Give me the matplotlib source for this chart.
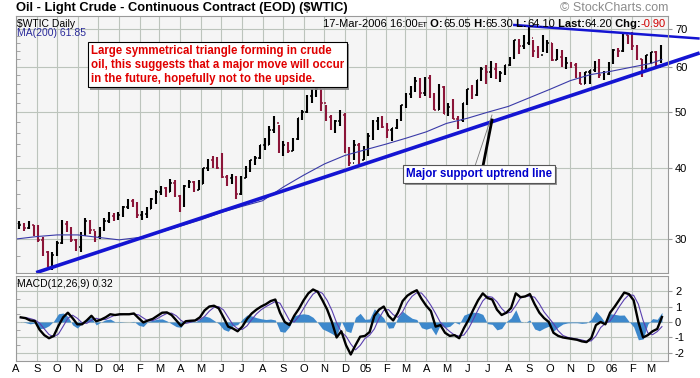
import matplotlib
matplotlib.use('Agg')
import matplotlib.pyplot as plt
import matplotlib.dates as mdates
import matplotlib.patheffects as pe
from matplotlib.ticker import FixedLocator, FormatStrFormatter, NullFormatter, FuncFormatter
from matplotlib.lines import Line2D
import pandas as pd

plt.rcParams['font.family'] = ['Liberation Sans', 'DejaVu Sans']

# weekly bars (week ending Friday)
weeks = pd.date_range('2003-08-08', periods=137, freq='W-FRI')
first_open = 31.4
week_high = [32.3, 32.0, 32.3, 31.8, 31.7, 30.2, 28.6, 28.5,
             29.8, 32.4, 32.2, 31.5, 30.0, 30.9, 32.6, 32.4, 31.0,
             31.5, 32.6, 33.4, 33.3,
             33.4, 34.3, 35.3, 35.3, 34.8, 33.6, 34.2, 35.4, 36.6,
             37.1, 37.0, 38.2, 38.0, 35.8, 37.3, 38.0, 37.9, 38.0,
             40.0, 41.4, 41.9, 41.7, 42.4, 38.8, 39.0, 38.6,
             38.6, 40.2, 41.3, 42.0, 43.9, 45.0, 47.3, 49.2, 47.5,
             44.5, 44.3, 45.0, 48.9, 50.5, 53.5, 54.9, 55.2, 55.0,
             51.5, 49.5, 48.5, 50.4, 49.9, 43.4, 44.8, 44.2, 43.6,
             46.0, 48.4, 49.0, 49.3, 47.8, 47.0, 48.7, 51.5,
             54.0, 55.6, 57.6, 57.3, 57.7, 58.0, 54.0, 56.0, 55.5,
             52.0, 52.7, 49.3, 51.9, 55.0, 55.8, 57.0, 59.9,
             60.5, 61.5, 61.0, 59.0, 60.6, 62.5, 67.0, 67.1, 68.2,
             70.8, 67.0, 65.2, 68.2, 67.0, 66.0, 64.5, 64.3, 62.4,
             61.3, 61.0, 58.8, 58.8, 59.4, 61.5, 62.0, 59.0, 61.3,
             64.6, 64.8, 68.6, 68.4, 69.0, 65.5, 62.0, 63.0,
             63.8, 63.9, 65.5]
week_low = [31.2, 31.0, 31.2, 30.4, 29.6, 28.0, 26.8, 26.5,
            28.0, 29.4, 30.9, 29.6, 28.6, 28.5, 30.4, 30.6, 29.7,
            30.0, 31.0, 32.0, 32.2,
            32.4, 32.8, 33.8, 34.2, 32.6, 32.4, 32.6, 33.8, 34.6,
            35.8, 35.6, 36.3, 35.5, 33.4, 34.2, 36.8, 36.3, 36.5,
            37.5, 39.5, 40.0, 39.8, 38.3, 37.2, 37.5, 35.3,
            35.8, 38.3, 39.3, 40.5, 41.5, 43.0, 43.9, 46.0, 42.4,
            42.0, 42.5, 42.7, 44.8, 48.5, 49.8, 52.0, 53.2, 50.3,
            48.3, 46.6, 46.0, 47.4, 42.5, 40.3, 41.2, 40.6, 41.2,
            42.0, 44.8, 46.6, 47.0, 45.0, 44.5, 46.8, 48.3,
            50.8, 53.0, 54.2, 53.0, 53.4, 53.0, 50.4, 50.4, 49.6,
            49.2, 48.6, 46.8, 48.0, 51.4, 52.8, 53.4, 56.8,
            56.0, 57.3, 57.1, 56.5, 58.2, 60.2, 62.0, 63.3, 64.5,
            65.5, 62.6, 62.3, 63.8, 63.5, 61.4, 61.6, 60.0, 59.6,
            59.8, 57.3, 56.0, 56.0, 56.0, 58.8, 57.5, 56.9, 58.0,
            60.8, 62.5, 63.8, 65.8, 64.3, 61.8, 57.7, 59.6,
            60.7, 59.8, 60.9]
week_close = [31.8, 31.4, 31.7, 31.5, 29.9, 28.5, 27.2, 28.1,
              29.5, 31.9, 31.3, 29.9, 29.1, 30.6, 32.2, 31.1, 30.2,
              31.3, 32.2, 32.9, 32.7,
              33.0, 34.1, 35.0, 34.6, 33.0, 33.2, 33.9, 35.2, 36.2,
              36.9, 36.2, 37.6, 35.7, 34.4, 37.1, 37.7, 36.6, 37.4,
              39.9, 41.3, 40.8, 39.9, 38.5, 38.3, 38.5, 36.0,
              38.4, 39.9, 41.2, 41.6, 43.8, 43.9, 46.6, 47.8, 43.2,
              43.9, 42.8, 44.9, 48.9, 50.1, 53.3, 54.5, 54.9, 51.8,
              49.1, 47.2, 48.2, 49.5, 42.6, 40.7, 43.8, 41.3, 43.4,
              45.4, 48.3, 48.5, 47.2, 46.5, 46.9, 48.4, 51.4,
              53.8, 54.4, 56.7, 54.0, 57.3, 53.3, 50.5, 55.4, 49.7,
              51.0, 48.7, 48.4, 51.9, 55.0, 53.5, 57.0, 59.6,
              58.8, 59.6, 58.1, 58.6, 60.6, 62.3, 66.9, 65.4, 66.1,
              67.5, 64.1, 63.0, 64.2, 66.2, 61.8, 62.6, 60.6, 61.0,
              60.6, 57.8, 56.1, 58.7, 59.3, 59.4, 58.1, 58.4, 61.0,
              64.2, 63.9, 68.4, 67.8, 65.4, 61.9, 59.9, 62.9,
              63.7, 60.0, 64.2]

# 200-day moving average as drawn
ma_dates = ['2003-08-01', '2003-09-01', '2003-10-01', '2003-11-01', '2003-12-01',
            '2004-01-01', '2004-02-01', '2004-03-01', '2004-04-01', '2004-05-01',
            '2004-06-01', '2004-07-01', '2004-08-01', '2004-09-01', '2004-10-01',
            '2004-11-01', '2004-12-01', '2005-01-01', '2005-02-01', '2005-03-01',
            '2005-04-01', '2005-05-01', '2005-06-01', '2005-07-01', '2005-08-01',
            '2005-09-01', '2005-10-01', '2005-11-01', '2005-12-01', '2006-01-01',
            '2006-02-01', '2006-03-01', '2006-03-17']
ma200 = [30.0, 30.3, 30.5, 30.5, 30.2, 29.9, 30.2, 30.8, 31.6, 32.4,
         33.4, 34.2, 35.0, 37.0, 38.8, 40.6, 42.0, 43.0, 44.0, 45.0,
         46.2, 47.8, 48.8, 50.0, 51.2, 53.0, 54.8, 56.8, 58.2, 59.0,
         60.0, 60.9, 61.85]

# MACD(12,26,9) weekly readings
macd = [0.3, 0.25, 0.1, 0.06, -0.5, -0.85, -1.05, -0.9, -0.25, 0.3,
        0.6, 0.25, -0.15, -0.15, 0.1, 0.4, 0.05, 0.15, 0.3, 0.5,
        0.45, 0.5, 0.5, 0.5, 0.55, 0.25, -0.03, 0.1, 0.2, 0.4,
        0.6, 0.62, 0.45, 0.1, -0.25, 0.05, 0.08, 0.1, 0.3, 0.75,
        1.0, 1.05, 0.88, 0.3, -0.3, -0.42, -0.6, -0.3, 0.2, 0.55,
        0.8, 1.0, 1.15, 1.35, 1.45, 0.6, 0.0, -0.2, 0.4, 0.85,
        1.4, 1.85, 2.1, 1.95, 1.4, 0.8, 0.0, -1.0, -0.6, -1.5,
        -2.1, -1.5, -0.95, -0.9, -0.65, 0.4, 0.8, 1.0, 0.4, 0.1,
        0.6, 1.35, 1.7, 1.9, 2.05, 1.5, 1.05, 0.7, -0.3, -0.2,
        -0.7, -0.9, -0.85, -1.05, -0.4, 0.15, 0.8, 1.4, 1.85, 1.55,
        1.45, 0.8, 0.45, 0.6, 0.9, 1.85, 1.6, 1.65, 1.8, 1.15,
        0.6, 0.25, 0.0, -0.7, -0.9, -1.0, -1.05, -1.1, -1.15, -1.25,
        -1.3, -1.05, -0.2, 0.0, -0.15, 0.6, 1.0, 1.45, 1.9, 1.8,
        1.4, 0.0, -1.0, -0.85, -0.6, -0.45, 0.32]
signal = [0.28, 0.29, 0.22, 0.13, -0.07, -0.45, -0.81, -0.96, -0.78, -0.28,
          0.24, 0.44, 0.24, -0.05, -0.09, 0.11, 0.24, 0.16, 0.16, 0.31,
          0.44, 0.47, 0.49, 0.5, 0.51, 0.46, 0.26, 0.07, 0.09, 0.22,
          0.4, 0.55, 0.57, 0.4, 0.1, -0.09, -0.02, 0.08, 0.14, 0.36,
          0.7, 0.95, 0.99, 0.78, 0.3, -0.18, -0.43, -0.48, -0.25, 0.16,
          0.52, 0.79, 0.99, 1.16, 1.32, 1.21, 0.66, 0.1, 0.0, 0.36,
          0.87, 1.37, 1.8, 2.0, 1.85, 1.39, 0.75, -0.05, -0.65, -0.92,
          -1.42, -1.8, -1.51, -1.07, -0.85, -0.45, 0.24, 0.75, 0.8, 0.47,
          0.3, 0.66, 1.25, 1.66, 1.89, 1.87, 1.52, 1.07, 0.54, -0.02,
          -0.35, -0.62, -0.84, -0.91, -0.84, -0.42, 0.17, 0.79, 1.36, 1.66,
          1.6, 1.31, 0.87, 0.57, 0.64, 1.06, 1.55, 1.67, 1.67, 1.6,
          1.17, 0.65, 0.27, -0.11, -0.57, -0.87, -0.99, -1.05, -1.1, -1.16,
          -1.24, -1.22, -0.9, -0.36, -0.09, 0.07, 0.51, 1.01, 1.45, 1.76,
          1.72, 1.15, 0.1, -0.71, -0.82, -0.62, -0.3]

# trend lines (date, price)
support_dates = ['2003-08-31', '2006-05-12']
support_prices = [26.2, 63.5]
resist_dates = ['2005-08-08', '2006-05-12']
resist_prices = [71.1, 67.3]

W, H = 700, 378
BG = '#f5f5f5'
GRID = '#bcc4bc'
SPINE = '#9a9a9a'
BLUE = '#1414d2'
RED_BAR = '#8b1538'


def px(l, t, r, b):
    return [l / W, 1 - b / H, (r - l) / W, (b - t) / H]


fig = plt.figure(figsize=(7, 3.78), dpi=100)
ax = fig.add_axes(px(16, 16, 668, 273))
axm = fig.add_axes(px(16, 276, 668, 361), sharex=ax)

for a in (ax, axm):
    a.set_facecolor(BG)
    for s in a.spines.values():
        s.set_color(SPINE)
        s.set_linewidth(0.8)
    a.xaxis.set_major_locator(mdates.MonthLocator())
    a.grid(True, which='major', color=GRID, lw=0.8)
    a.set_axisbelow(True)
    a.yaxis.tick_right()
    a.tick_params(axis='y', which='major', right=True, left=False, length=3,
                  color=SPINE, labelsize=8, pad=2)
    a.tick_params(axis='y', which='minor', left=True, right=False,
                  direction='in', length=3, color=SPINE)

# ---- price panel
x = mdates.date2num(weeks) - 2
opens = [first_open] + week_close[:-1]
cols = ['black' if c >= o else RED_BAR for o, c in zip(opens, week_close)]
ax.vlines(x, week_low, week_high, colors=cols, lw=1.5)
ax.hlines(opens, x - 2.2, x, colors=cols, lw=1.1)
ax.hlines(week_close, x, x + 2.2, colors=cols, lw=1.1)

ax.plot(mdates.date2num(pd.to_datetime(ma_dates)), ma200, color='#3a3aa8', lw=0.8)

ax.plot(mdates.date2num(pd.to_datetime(support_dates)), support_prices,
        color=BLUE, lw=2.6, clip_on=False, solid_capstyle='butt')
ax.plot(mdates.date2num(pd.to_datetime(resist_dates)), resist_prices,
        color=BLUE, lw=1.8, clip_on=False, solid_capstyle='butt')

ax.set_yscale('log')
ax.set_ylim(26.16, 73.7)
ax.yaxis.set_major_locator(FixedLocator([30, 40, 50, 60, 70]))
ax.yaxis.set_major_formatter(FormatStrFormatter('%d'))
ax.yaxis.set_minor_locator(FixedLocator(list(range(26, 74, 2))))
ax.yaxis.set_minor_formatter(NullFormatter())
ax.set_xlim(mdates.date2num(pd.Timestamp('2003-08-01')),
            mdates.date2num(pd.Timestamp('2006-03-26')))
ax.tick_params(axis='x', length=0, labelbottom=False)

# ---- MACD panel
xm = mdates.date2num(weeks)
hist = [m - s for m, s in zip(macd, signal)]
axm.fill_between(xm, hist, 0, color='#3d88cc', lw=0)
axm.plot(xm, signal, color='#5a3fb0', lw=0.8)
axm.plot(xm, macd, color='black', lw=1.7)
axm.set_ylim(-2.52, 2.97)
axm.yaxis.set_major_locator(FixedLocator([-2, -1, 0, 1, 2]))
axm.yaxis.set_major_formatter(FormatStrFormatter('%d'))
axm.yaxis.set_minor_locator(FixedLocator([-2.5, -1.5, -0.5, 0.5, 1.5, 2.5]))
axm.yaxis.set_minor_formatter(NullFormatter())


def month_label(v, pos):
    d = mdates.num2date(v)
    return d.strftime('%y') if d.month == 1 else d.strftime('%b')[0]


axm.xaxis.set_major_formatter(FuncFormatter(month_label))
axm.tick_params(axis='x', length=0, labelsize=8, pad=2)

# ---- texts
fig.text(16 / W, 1 - 8 / H, 'Oil - Light Crude - Continuous Contract (EOD) ($WTIC)',
         fontsize=9.3, fontweight='bold', va='center', ha='left')
fig.text(668 / W, 1 - 8 / H, '\u00a9 StockCharts.com', fontsize=9, color='#8c8c8c',
         va='center', ha='right')

ax.text(0.002, 0.99, '$WTIC Daily', transform=ax.transAxes, fontsize=7.5,
        va='top', ha='left')
ax.text(0.002, 0.952, 'MA(200) 61.85', transform=ax.transAxes, fontsize=7.5,
        va='top', ha='left', color='#2a2a9a')
axm.text(0.002, 0.96, 'MACD(12,26,9) 0.32', transform=axm.transAxes, fontsize=7.5,
         va='top', ha='left')

# header on the right, built from right to left
pieces = [('17-Mar-2006 16:00', 'normal', 'black', 8),
          ('ET', 'normal', 'black', 5.8),
          (' O:', 'bold', 'black', 8), ('65.05', 'normal', 'black', 8),
          (' H:', 'bold', 'black', 8), ('65.30', 'normal', 'black', 8),
          (' L:', 'bold', 'black', 8), ('64.10', 'normal', 'black', 8),
          (' Last:', 'bold', 'black', 8), ('64.20', 'normal', 'black', 8),
          (' Chg:', 'bold', 'black', 8), ('-0.90', 'normal', '#d00000', 8)]
prev = None
for s, wgt, c, fs in reversed(pieces):
    if prev is None:
        prev = ax.text(0.997, 0.99, s, transform=ax.transAxes, fontsize=fs,
                       fontweight=wgt, color=c, va='top', ha='right')
    else:
        prev = ax.annotate(s, xy=(0, 0), xycoords=prev, fontsize=fs,
                           fontweight=wgt, color=c, va='bottom', ha='right')

note = fig.text(91 / W, 1 - 45 / H,
                'Large symmetrical triangle forming in crude\n'
                'oil, this suggests that a major move will occur\n'
                'in the future, hopefully not to the upside.',
                fontsize=8.3, fontweight='bold', color='#e00000', va='top',
                ha='left', linespacing=1.2,
                bbox=dict(boxstyle='square,pad=0.25', fc='white', ec='black', lw=0.8))
note.get_bbox_patch().set_path_effects(
    [pe.withSimplePatchShadow(offset=(1.5, -1.5), shadow_rgbFace='#888888', alpha=0.9)])

lab = fig.text(406 / W, 1 - 174 / H, 'Major support uptrend line', fontsize=8.3,
               fontweight='bold', color='#0000cc', va='center', ha='left',
               bbox=dict(boxstyle='square,pad=0.25', fc='white', ec='#555555', lw=0.8))
lab.get_bbox_patch().set_path_effects(
    [pe.withSimplePatchShadow(offset=(1.5, -1.5), shadow_rgbFace='#888888', alpha=0.9)])

fig.add_artist(Line2D([475 / W, 492 / W], [1 - 166 / H, 1 - 115 / H],
                      color='#777777', lw=0.6))
fig.add_artist(Line2D([483 / W, 492 / W], [1 - 166 / H, 1 - 120 / H],
                      color='black', lw=2.0))

fig.savefig('out.png', dpi=100, facecolor='white')
